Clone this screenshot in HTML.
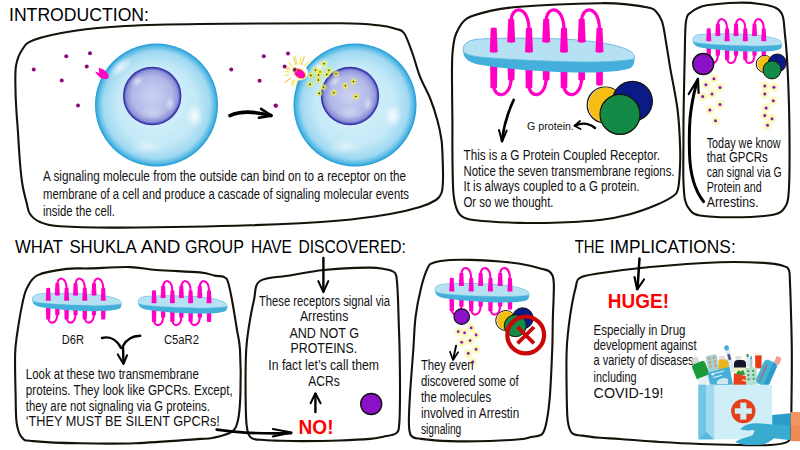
<!DOCTYPE html><html><head><meta charset="utf-8"><style>html,body{margin:0;padding:0;background:#fff;}svg{display:block;}</style></head><body>
<svg width="800" height="450" viewBox="0 0 800 450" font-family="Liberation Sans, sans-serif">
<defs>
<radialGradient id="cellg" cx="0.5" cy="0.5" r="0.5">
 <stop offset="0" stop-color="#dcf2fb"/>
 <stop offset="0.65" stop-color="#c4e9f7"/>
 <stop offset="0.87" stop-color="#a0d9f1"/>
 <stop offset="0.955" stop-color="#55b8e4"/>
 <stop offset="1" stop-color="#1a9ad6"/>
</radialGradient>
<radialGradient id="nucg" cx="0.5" cy="0.5" r="0.5">
 <stop offset="0" stop-color="#cdd2f2"/>
 <stop offset="0.7" stop-color="#b2b8e8"/>
 <stop offset="0.9" stop-color="#9096da"/>
 <stop offset="1" stop-color="#4a48b8"/>
</radialGradient>
<radialGradient id="glow" cx="0.5" cy="0.5" r="0.5">
 <stop offset="0" stop-color="#fafad0"/>
 <stop offset="0.4" stop-color="#f8f7aa"/>
 <stop offset="0.7" stop-color="#fafac4" stop-opacity="0.7"/>
 <stop offset="1" stop-color="#ffffff" stop-opacity="0"/>
</radialGradient>
<radialGradient id="glowc" cx="0.5" cy="0.5" r="0.5">
 <stop offset="0" stop-color="#e6e83a"/>
 <stop offset="0.45" stop-color="#e8ea48" stop-opacity="0.8"/>
 <stop offset="1" stop-color="#eef060" stop-opacity="0"/>
</radialGradient>
<radialGradient id="hl" cx="0.5" cy="0.5" r="0.5">
 <stop offset="0" stop-color="#ffffff" stop-opacity="0.95"/>
 <stop offset="1" stop-color="#ffffff" stop-opacity="0"/>
</radialGradient>
</defs>
<rect width="800" height="450" fill="#fff"/>
<text x="9" y="20.8" font-size="18.5" textLength="140" lengthAdjust="spacingAndGlyphs" font-weight="normal" fill="#000" text-anchor="start" font-family="Liberation Sans" >INTRODUCTION:</text>
<text x="14.9" y="253" font-size="18" textLength="48.0" lengthAdjust="spacingAndGlyphs" font-weight="normal" fill="#000" text-anchor="start" font-family="Liberation Sans" >WHAT</text>
<text x="69.4" y="253" font-size="18" textLength="67.3" lengthAdjust="spacingAndGlyphs" font-weight="normal" fill="#000" text-anchor="start" font-family="Liberation Sans" >SHUKLA</text>
<text x="140.70000000000002" y="253" font-size="18" textLength="39.8" lengthAdjust="spacingAndGlyphs" font-weight="normal" fill="#000" text-anchor="start" font-family="Liberation Sans" >AND</text>
<text x="185.0" y="253" font-size="18" textLength="58.9" lengthAdjust="spacingAndGlyphs" font-weight="normal" fill="#000" text-anchor="start" font-family="Liberation Sans" >GROUP</text>
<text x="251.0" y="253" font-size="18" textLength="40.9" lengthAdjust="spacingAndGlyphs" font-weight="normal" fill="#000" text-anchor="start" font-family="Liberation Sans" >HAVE</text>
<text x="298.4" y="253" font-size="18" textLength="107.5" lengthAdjust="spacingAndGlyphs" font-weight="normal" fill="#000" text-anchor="start" font-family="Liberation Sans" >DISCOVERED:</text>
<text x="574.6999999999999" y="253" font-size="18" textLength="29.7" lengthAdjust="spacingAndGlyphs" font-weight="normal" fill="#000" text-anchor="start" font-family="Liberation Sans" >THE</text>
<text x="609.8" y="253" font-size="18" textLength="125.9" lengthAdjust="spacingAndGlyphs" font-weight="normal" fill="#000" text-anchor="start" font-family="Liberation Sans" >IMPLICATIONS:</text>
<path d="M16.0,66.0 C17.1,59.3 19.0,54.3 22.0,50.0 C25.0,45.7 24.9,43.2 33.8,40.0 C42.6,36.8 59.8,33.1 75.0,30.8 C90.2,28.4 104.2,27.1 125.0,26.0 C145.8,24.9 164.2,24.4 200.0,24.0 C235.8,23.6 310.0,23.1 340.0,23.3 C370.0,23.6 370.7,24.6 380.0,25.5 C389.3,26.4 392.0,27.8 396.0,29.0 C400.0,30.2 401.3,29.2 404.0,33.0 C406.7,36.8 409.3,44.7 412.0,52.0 C414.7,59.3 417.0,69.0 420.0,76.7 C423.0,84.4 427.1,90.8 430.0,98.0 C432.9,105.2 435.4,113.0 437.3,120.0 C439.2,127.0 440.6,133.3 441.5,140.0 C442.4,146.7 442.4,153.3 442.7,160.0 C442.9,166.7 443.2,174.5 443.0,180.0 C442.8,185.5 442.7,189.7 441.5,193.0 C440.3,196.3 439.6,197.7 436.0,200.0 C432.4,202.3 427.7,204.7 420.0,207.0 C412.3,209.3 403.3,211.8 390.0,214.0 C376.7,216.2 363.3,218.6 340.0,220.5 C316.7,222.4 286.7,224.1 250.0,225.3 C213.3,226.5 151.7,227.4 120.0,227.6 C88.3,227.8 73.3,227.2 60.0,226.3 C46.7,225.4 45.0,224.1 40.0,222.0 C35.0,219.9 32.2,217.2 30.0,214.0 C27.8,210.8 27.9,207.8 26.7,203.0 C25.4,198.2 23.6,191.7 22.5,185.0 C21.4,178.3 20.8,172.7 20.0,163.0 C19.2,153.3 18.2,135.5 17.6,127.0 C17.0,118.5 16.9,118.2 16.5,112.0 C16.1,105.8 15.6,97.7 15.5,90.0 C15.4,82.3 14.9,72.7 16.0,66.0 Z" fill="none" stroke="#16120a" stroke-width="2.1" stroke-linejoin="round" stroke-linecap="round"/>
<path d="M452.4,120.0 C452.3,108.3 452.0,91.2 452.0,80.0 C452.0,68.8 451.8,60.7 452.5,53.0 C453.2,45.3 453.6,39.7 456.0,34.0 C458.4,28.3 461.0,22.5 466.7,18.7 C472.4,14.9 481.1,13.0 490.0,11.0 C498.9,9.0 501.7,8.0 520.0,6.7 C538.3,5.4 581.8,3.6 600.0,3.2 C618.2,2.9 621.0,3.9 629.0,4.6 C637.0,5.3 643.6,6.5 648.0,7.5 C652.4,8.5 653.1,8.4 655.4,10.7 C657.7,13.0 660.2,16.2 662.0,21.4 C663.8,26.6 664.7,34.4 666.0,42.0 C667.3,49.6 668.1,55.5 670.0,66.8 C671.9,78.1 675.9,96.1 677.6,110.0 C679.3,123.9 679.9,139.2 680.2,150.0 C680.5,160.8 680.0,168.5 679.6,175.0 C679.2,181.5 678.9,185.6 678.0,189.0 C677.1,192.4 677.5,192.9 674.0,195.5 C670.5,198.1 664.0,201.7 656.7,204.8 C649.4,207.9 639.5,211.7 630.0,214.2 C620.5,216.7 611.7,218.6 600.0,220.0 C588.3,221.4 573.3,222.0 560.0,222.5 C546.7,223.0 534.1,223.3 520.0,222.9 C505.9,222.5 485.4,221.4 475.6,220.2 C465.8,219.0 464.6,218.0 461.3,215.8 C458.0,213.6 457.4,211.3 456.0,207.0 C454.6,202.7 453.8,199.5 453.2,190.0 C452.6,180.5 452.5,161.7 452.4,150.0 C452.3,138.3 452.5,131.7 452.4,120.0 Z" fill="none" stroke="#16120a" stroke-width="2.1" stroke-linejoin="round" stroke-linecap="round"/>
<path d="M683.5,120.0 C683.6,110.0 683.8,101.1 684.0,90.0 C684.2,78.9 684.5,64.8 684.8,53.4 C685.1,42.0 684.9,28.3 686.0,21.4 C687.1,14.5 687.9,14.7 691.4,12.0 C694.9,9.3 698.8,6.8 706.7,5.3 C714.6,3.8 729.8,2.9 738.7,2.7 C747.6,2.5 753.8,3.1 760.0,4.0 C766.2,4.9 772.2,6.0 776.0,8.0 C779.8,10.0 781.2,11.5 782.7,16.0 C784.2,20.5 784.3,28.8 785.0,35.0 C785.7,41.2 786.1,44.1 786.7,53.3 C787.3,62.5 788.1,78.9 788.5,90.0 C788.9,101.1 789.1,107.2 789.3,120.0 C789.5,132.8 789.6,154.2 789.5,166.7 C789.4,179.2 789.2,188.3 788.5,195.0 C787.8,201.7 787.8,203.4 785.3,206.7 C782.8,210.0 782.0,212.9 773.3,214.7 C764.6,216.5 745.5,217.2 733.3,217.3 C721.1,217.4 707.2,216.7 700.0,215.5 C692.8,214.3 692.5,212.6 690.0,210.0 C687.5,207.4 686.1,205.0 685.0,200.0 C683.9,195.0 683.7,188.3 683.4,180.0 C683.1,171.7 683.4,160.0 683.4,150.0 C683.4,140.0 683.4,130.0 683.5,120.0 Z" fill="none" stroke="#16120a" stroke-width="2.1" stroke-linejoin="round" stroke-linecap="round"/>
<path d="M22.2,304.4 C23.9,296.6 24.4,292.9 27.0,288.0 C29.6,283.1 31.2,278.3 37.8,275.1 C44.4,271.9 58.0,270.0 66.7,268.9 C75.4,267.8 79.5,268.7 90.0,268.4 C100.5,268.1 118.9,266.8 130.0,267.1 C141.1,267.4 145.0,269.1 156.7,270.0 C168.4,270.9 190.4,271.5 200.0,272.4 C209.6,273.3 210.4,274.8 214.4,275.6 C218.4,276.4 221.7,275.9 224.0,277.0 C226.3,278.1 226.7,278.2 228.0,282.0 C229.3,285.8 230.5,292.0 232.0,300.0 C233.5,308.0 235.7,321.7 237.0,330.0 C238.3,338.3 239.4,339.3 240.0,350.0 C240.6,360.7 240.8,382.6 240.4,394.4 C240.0,406.2 239.4,414.7 237.8,421.0 C236.2,427.3 235.2,429.4 231.1,432.2 C227.0,435.0 218.5,436.7 213.3,437.8 C208.1,438.9 213.1,438.0 200.0,438.9 C186.9,439.8 155.0,442.5 135.0,443.2 C115.0,443.9 97.0,443.6 80.0,443.3 C63.0,443.0 42.9,442.0 33.3,441.1 C23.7,440.2 25.0,440.8 22.2,437.8 C19.4,434.8 17.8,430.5 16.7,423.3 C15.6,416.1 15.9,405.8 15.6,394.4 C15.3,383.0 14.9,364.9 15.1,355.0 C15.3,345.1 15.8,343.4 17.0,335.0 C18.2,326.6 20.5,312.2 22.2,304.4 Z" fill="none" stroke="#16120a" stroke-width="2.1" stroke-linejoin="round" stroke-linecap="round"/>
<path d="M260.0,281.0 C266.0,276.9 279.4,277.3 290.0,275.5 C300.6,273.7 310.8,271.3 323.9,270.0 C336.9,268.7 358.3,267.8 368.3,267.6 C378.3,267.4 380.0,268.4 384.0,269.0 C388.0,269.6 390.2,270.0 392.2,271.1 C394.2,272.2 395.3,271.7 396.2,275.6 C397.1,279.5 397.4,285.7 397.8,294.4 C398.2,303.1 398.6,318.5 398.9,327.8 C399.2,337.1 399.4,338.9 399.6,350.0 C399.8,361.1 400.1,382.2 400.0,394.4 C399.9,406.6 399.9,416.8 399.3,423.3 C398.7,429.8 398.9,431.1 396.2,433.3 C393.5,435.5 387.7,435.8 383.3,436.7 C378.9,437.6 377.2,438.3 370.0,438.9 C362.8,439.5 351.4,440.1 340.0,440.5 C328.6,440.9 311.7,441.1 301.7,441.1 C291.7,441.1 286.2,440.9 280.0,440.7 C273.8,440.5 269.2,440.5 264.4,440.0 C259.6,439.5 254.0,440.2 251.1,437.8 C248.2,435.4 247.6,432.8 246.7,425.6 C245.8,418.4 245.7,407.0 245.6,394.4 C245.5,381.8 245.6,361.4 246.2,350.0 C246.8,338.6 247.7,334.3 249.0,326.0 C250.3,317.7 252.2,307.5 254.0,300.0 C255.8,292.5 254.0,285.1 260.0,281.0 Z" fill="none" stroke="#16120a" stroke-width="2.1" stroke-linejoin="round" stroke-linecap="round"/>
<path d="M434.0,262.6 C437.7,261.3 443.7,260.4 450.0,260.0 C456.3,259.6 463.4,259.6 471.7,259.9 C480.0,260.1 491.9,260.9 500.0,261.5 C508.1,262.1 513.0,262.6 520.0,263.8 C527.0,265.0 537.1,267.4 542.2,268.9 C547.3,270.3 548.6,270.1 550.5,272.5 C552.4,274.9 553.4,275.9 553.8,283.3 C554.2,290.7 553.2,305.6 552.9,316.7 C552.6,327.8 552.7,337.1 552.2,350.0 C551.7,362.9 550.9,382.5 550.0,394.4 C549.1,406.2 548.0,414.5 546.7,421.1 C545.4,427.7 544.8,431.3 542.2,434.0 C539.6,436.7 534.8,436.2 531.1,437.1 C527.4,438.0 526.9,438.7 520.0,439.3 C513.1,439.9 501.7,440.7 490.0,441.0 C478.3,441.3 461.5,441.5 450.0,441.1 C438.5,440.8 427.6,439.8 421.1,438.9 C414.6,438.0 413.1,438.2 411.1,435.6 C409.1,433.0 409.1,430.2 408.9,423.3 C408.7,416.4 409.3,406.6 410.0,394.4 C410.7,382.2 412.4,362.9 413.3,350.0 C414.2,337.1 414.3,327.1 415.6,316.7 C416.9,306.3 419.1,295.9 421.1,287.8 C423.1,279.7 425.7,272.0 427.8,267.8 C429.9,263.6 430.3,263.9 434.0,262.6 Z" fill="none" stroke="#16120a" stroke-width="2.1" stroke-linejoin="round" stroke-linecap="round"/>
<path d="M580.0,277.8 C584.1,275.4 588.3,275.1 600.0,273.3 C611.7,271.5 630.0,268.9 650.0,267.0 C670.0,265.1 700.9,262.9 720.0,262.2 C739.1,261.5 754.0,262.3 764.4,262.9 C774.8,263.5 778.1,264.4 782.2,265.6 C786.3,266.8 787.6,267.1 788.9,270.0 C790.2,272.9 789.6,275.5 790.0,283.3 C790.4,291.1 790.8,305.6 791.1,316.7 C791.4,327.8 791.7,336.1 791.8,350.0 C791.9,363.9 791.7,386.7 791.5,400.0 C791.3,413.3 791.4,423.1 790.8,430.0 C790.2,436.9 791.5,439.0 788.0,441.5 C784.5,444.0 778.0,444.4 770.0,445.0 C762.0,445.6 751.7,445.2 740.0,445.0 C728.3,444.8 713.3,444.5 700.0,444.0 C686.7,443.5 673.3,442.8 660.0,442.0 C646.7,441.2 630.0,439.7 620.0,439.0 C610.0,438.3 606.3,438.4 600.0,437.8 C593.7,437.2 586.8,436.4 582.2,435.6 C577.6,434.9 574.6,435.7 572.2,433.3 C569.8,430.9 568.7,427.6 567.8,421.1 C566.9,414.6 566.9,406.2 566.7,394.4 C566.5,382.5 566.2,362.9 566.7,350.0 C567.2,337.1 568.5,327.1 570.0,316.7 C571.5,306.3 573.9,294.3 575.6,287.8 C577.3,281.3 575.9,280.2 580.0,277.8 Z" fill="none" stroke="#16120a" stroke-width="2.1" stroke-linejoin="round" stroke-linecap="round"/>
<line x1="305.5" y1="72.7" x2="314.3" y2="73.0" stroke="#f6c25a" stroke-width="1.1" stroke-linecap="round"/>
<line x1="305.1" y1="74.9" x2="314.2" y2="78.3" stroke="#f8e54a" stroke-width="1.1" stroke-linecap="round"/>
<line x1="304.2" y1="76.6" x2="312.0" y2="82.3" stroke="#f8e54a" stroke-width="1.1" stroke-linecap="round"/>
<line x1="303.7" y1="77.2" x2="309.2" y2="82.4" stroke="#f6c25a" stroke-width="1.1" stroke-linecap="round"/>
<line x1="300.7" y1="79.1" x2="303.4" y2="87.1" stroke="#f8e54a" stroke-width="1.1" stroke-linecap="round"/>
<line x1="298.8" y1="79.5" x2="299.1" y2="85.5" stroke="#f8e54a" stroke-width="1.1" stroke-linecap="round"/>
<line x1="297.6" y1="79.4" x2="296.7" y2="86.0" stroke="#f6c25a" stroke-width="1.1" stroke-linecap="round"/>
<line x1="295.5" y1="78.8" x2="292.1" y2="86.2" stroke="#f8e54a" stroke-width="1.1" stroke-linecap="round"/>
<line x1="294.6" y1="78.3" x2="290.9" y2="83.6" stroke="#f8e54a" stroke-width="1.1" stroke-linecap="round"/>
<line x1="292.8" y1="76.6" x2="285.0" y2="82.2" stroke="#f6c25a" stroke-width="1.1" stroke-linecap="round"/>
<line x1="291.7" y1="74.0" x2="285.6" y2="75.4" stroke="#f8e54a" stroke-width="1.1" stroke-linecap="round"/>
<line x1="291.5" y1="72.0" x2="285.4" y2="71.6" stroke="#f8e54a" stroke-width="1.1" stroke-linecap="round"/>
<line x1="291.8" y1="70.3" x2="286.1" y2="68.5" stroke="#f6c25a" stroke-width="1.1" stroke-linecap="round"/>
<line x1="292.2" y1="69.4" x2="283.7" y2="65.3" stroke="#f8e54a" stroke-width="1.1" stroke-linecap="round"/>
<line x1="293.6" y1="67.5" x2="289.0" y2="63.0" stroke="#f8e54a" stroke-width="1.1" stroke-linecap="round"/>
<line x1="296.3" y1="65.8" x2="293.4" y2="56.9" stroke="#f6c25a" stroke-width="1.1" stroke-linecap="round"/>
<line x1="297.2" y1="65.6" x2="295.3" y2="56.0" stroke="#f8e54a" stroke-width="1.1" stroke-linecap="round"/>
<line x1="299.6" y1="65.6" x2="300.9" y2="57.1" stroke="#f8e54a" stroke-width="1.1" stroke-linecap="round"/>
<line x1="300.9" y1="65.9" x2="304.4" y2="56.8" stroke="#f6c25a" stroke-width="1.1" stroke-linecap="round"/>
<line x1="303.3" y1="67.4" x2="310.1" y2="60.3" stroke="#f8e54a" stroke-width="1.1" stroke-linecap="round"/>
<line x1="304.7" y1="69.3" x2="310.8" y2="66.1" stroke="#f8e54a" stroke-width="1.1" stroke-linecap="round"/>
<line x1="305.1" y1="70.3" x2="311.1" y2="68.3" stroke="#f6c25a" stroke-width="1.1" stroke-linecap="round"/>
<circle cx="156.5" cy="105" r="61.5" fill="url(#cellg)"/>
<ellipse cx="120.5" cy="67" rx="14" ry="7" fill="url(#hl)" opacity="0.8" transform="rotate(-40 120.5 67)"/>
<ellipse cx="194.5" cy="116" rx="9" ry="12" fill="url(#hl)" opacity="0.9"/>
<ellipse cx="146.5" cy="147" rx="18" ry="8" fill="url(#hl)" opacity="0.5"/>
<circle cx="152.2" cy="96" r="28.5" fill="url(#nucg)" stroke="#3a34a8" stroke-width="1.4"/>
<ellipse cx="137.2" cy="81" rx="8" ry="5" fill="url(#hl)" opacity="0.6" transform="rotate(-40 137.2 81)"/>
<ellipse cx="170.2" cy="104" rx="5" ry="8" fill="url(#hl)" opacity="0.5"/>
<ellipse cx="152.2" cy="113" rx="14" ry="7" fill="url(#hl)" opacity="0.35"/>
<circle cx="355" cy="105" r="61.5" fill="url(#cellg)"/>
<ellipse cx="319" cy="67" rx="14" ry="7" fill="url(#hl)" opacity="0.8" transform="rotate(-40 319 67)"/>
<ellipse cx="393" cy="116" rx="9" ry="12" fill="url(#hl)" opacity="0.9"/>
<ellipse cx="345" cy="147" rx="18" ry="8" fill="url(#hl)" opacity="0.5"/>
<circle cx="350" cy="96" r="28.5" fill="url(#nucg)" stroke="#3a34a8" stroke-width="1.4"/>
<ellipse cx="335" cy="81" rx="8" ry="5" fill="url(#hl)" opacity="0.6" transform="rotate(-40 335 81)"/>
<ellipse cx="368" cy="104" rx="5" ry="8" fill="url(#hl)" opacity="0.5"/>
<ellipse cx="350" cy="113" rx="14" ry="7" fill="url(#hl)" opacity="0.35"/>
<path d="M95.2,71.5 L99.3,73 L98.6,68 C102.5,68.5 107.5,71.5 108.6,75.5 C109,78.5 107,79.5 104.5,79 C100.5,78.5 97,75.5 95.2,71.5 Z" fill="#ff04c4"/>
<ellipse cx="298.5" cy="72.5" rx="9.5" ry="8" fill="#ffffff" opacity="0.95"/>
<ellipse cx="299.8" cy="73.7" rx="6.4" ry="4.4" fill="#ff00b8" stroke="#f0d820" stroke-width="0.9" transform="rotate(35 299.8 73.7)"/>
<circle cx="294.8" cy="69.8" r="2.2" fill="#800a70" stroke="#f0d820" stroke-width="0.7"/>
<circle cx="66.25" cy="56.25" r="2" fill="#8a0a78"/>
<circle cx="90" cy="53.25" r="2" fill="#8a0a78"/>
<circle cx="33.75" cy="69.5" r="2" fill="#8a0a78"/>
<circle cx="86.75" cy="66.5" r="2" fill="#8a0a78"/>
<circle cx="61.75" cy="80.5" r="2" fill="#8a0a78"/>
<circle cx="78" cy="105.5" r="2" fill="#8a0a78"/>
<circle cx="231.2" cy="69.5" r="2" fill="#8a0a78"/>
<circle cx="263.8" cy="56.25" r="2" fill="#8a0a78"/>
<circle cx="288" cy="53.4" r="2" fill="#8a0a78"/>
<circle cx="284.6" cy="66.6" r="2" fill="#8a0a78"/>
<circle cx="259.6" cy="80.7" r="2" fill="#8a0a78"/>
<circle cx="275.6" cy="105.5" r="2" fill="#8a0a78"/>
<circle cx="324" cy="63.8" r="4.2" fill="url(#glowc)"/>
<circle cx="324" cy="63.8" r="0.8" fill="#222"/>
<circle cx="315.5" cy="70" r="4.2" fill="url(#glowc)"/>
<circle cx="315.5" cy="70" r="0.8" fill="#222"/>
<circle cx="320" cy="72" r="4.2" fill="url(#glowc)"/>
<circle cx="320" cy="72" r="0.8" fill="#222"/>
<circle cx="329" cy="70.3" r="4.2" fill="url(#glowc)"/>
<circle cx="329" cy="70.3" r="0.8" fill="#222"/>
<circle cx="310.8" cy="75.4" r="4.2" fill="url(#glowc)"/>
<circle cx="310.8" cy="75.4" r="0.8" fill="#222"/>
<circle cx="318.6" cy="75" r="4.2" fill="url(#glowc)"/>
<circle cx="318.6" cy="75" r="0.8" fill="#222"/>
<circle cx="326.8" cy="74.5" r="4.2" fill="url(#glowc)"/>
<circle cx="326.8" cy="74.5" r="0.8" fill="#222"/>
<circle cx="336" cy="73.7" r="4.2" fill="url(#glowc)"/>
<circle cx="336" cy="73.7" r="0.8" fill="#222"/>
<circle cx="318.4" cy="80.1" r="4.2" fill="url(#glowc)"/>
<circle cx="318.4" cy="80.1" r="0.8" fill="#222"/>
<circle cx="310" cy="84.4" r="4.2" fill="url(#glowc)"/>
<circle cx="310" cy="84.4" r="0.8" fill="#222"/>
<circle cx="323.4" cy="87.2" r="4.2" fill="url(#glowc)"/>
<circle cx="323.4" cy="87.2" r="0.8" fill="#222"/>
<circle cx="319.2" cy="93.4" r="4.2" fill="url(#glowc)"/>
<circle cx="319.2" cy="93.4" r="0.8" fill="#222"/>
<circle cx="333.8" cy="92.8" r="4.2" fill="url(#glowc)"/>
<circle cx="333.8" cy="92.8" r="0.8" fill="#222"/>
<circle cx="345.4" cy="85.8" r="4.2" fill="url(#glowc)"/>
<circle cx="345.4" cy="85.8" r="0.8" fill="#222"/>
<circle cx="353.5" cy="81.6" r="4.2" fill="url(#glowc)"/>
<circle cx="353.5" cy="81.6" r="0.8" fill="#222"/>
<circle cx="355.8" cy="96.5" r="4.2" fill="url(#glowc)"/>
<circle cx="355.8" cy="96.5" r="0.8" fill="#222"/>
<path d="M230,115.6 C238,112 252,110.5 271,115.6" fill="none" stroke="#000" stroke-width="3.6" stroke-linecap="round"/>
<path d="M261.1,108.9 L271.3,115.6 L258.9,117.8" fill="none" stroke="#000" stroke-width="2.6" stroke-linecap="round" stroke-linejoin="round"/>
<circle cx="275.9" cy="105.8" r="2" fill="#8a0a78"/>
<text x="43" y="181" font-size="14" textLength="363" lengthAdjust="spacingAndGlyphs" font-weight="normal" fill="#111" text-anchor="start" font-family="Liberation Sans" >A signaling molecule from the outside can bind on to a receptor on the</text>
<text x="43" y="198.5" font-size="14" textLength="366" lengthAdjust="spacingAndGlyphs" font-weight="normal" fill="#111" text-anchor="start" font-family="Liberation Sans" >membrane of a cell and produce a cascade of signaling molecular events</text>
<text x="43" y="216.2" font-size="14" textLength="72" lengthAdjust="spacingAndGlyphs" font-weight="normal" fill="#111" text-anchor="start" font-family="Liberation Sans" >inside the cell.</text>
<g transform="translate(549,55) scale(1.0)">
<path d="M-58.9,10 L-51.699999999999996,10 L-52.059999999999995,33 Q-55.3,34.5 -58.54,33 Z" fill="#ff00c4"/>
<path d="M-41.4,10 L-34.199999999999996,10 L-34.559999999999995,25 Q-37.8,26.5 -41.04,25 Z" fill="#ff00c4"/>
<path d="M-23.6,10 L-16.4,10 L-16.759999999999998,33 Q-20,34.5 -23.240000000000002,33 Z" fill="#ff00c4"/>
<path d="M-6.4,10 L0.8000000000000003,10 L0.4400000000000004,25 Q-2.8,26.5 -6.04,25 Z" fill="#ff00c4"/>
<path d="M11.4,10 L18.6,10 L18.240000000000002,33 Q15,34.5 11.76,33 Z" fill="#ff00c4"/>
<path d="M29.1,10 L36.300000000000004,10 L35.940000000000005,25 Q32.7,26.5 29.46,25 Z" fill="#ff00c4"/>
<path d="M46.9,10 L54.1,10 L53.74,30 Q50.5,31.5 47.26,30 Z" fill="#ff00c4"/>
<path d="M-55.3,30 C-55.3,44 -37.8,44 -37.8,22" fill="none" stroke="#ff00c4" stroke-width="3.2"/>
<path d="M-20,30 C-20,44 -2.8,44 -2.8,22" fill="none" stroke="#ff00c4" stroke-width="3.2"/>
<path d="M15,30 C15,44 32.7,44 32.7,22" fill="none" stroke="#ff00c4" stroke-width="3.2"/>
<g transform="rotate(0)">
<path d="M-86,-5 C-86,-12 -79,-15.5 -69,-16 C-49,-17 -9,-17.5 21,-15.5 C46,-14 71,-10 81,-4 C86,-1 87,7 83,12 C77,16.5 51,18 26,17.5 C-9,16.5 -49,13.5 -71,9.5 C-81,7 -86,3 -86,-5 Z" fill="#45afdb"/>
<path d="M-86,-5 C-86,-12 -79,-15.5 -69,-16 C-49,-17 -9,-17.5 21,-15.5 C46,-14 71,-10 81,-4 C86,-1 86,3 85.5,4 C71,6.5 51,7 36,7 C11,6.5 -29,5.5 -64,2.5 C-79,1 -86,-1 -86,-5 Z" fill="#b6e1f2" stroke="#5db9de" stroke-width="0.8"/>
</g>
<path d="M-58.288,-27 Q-55.3,-28 -52.312,-27 L-51.339999999999996,-3 Q-55.3,-1.5 -59.26,-3 Z" fill="#ff00c4"/>
<path d="M-40.788,-36 Q-37.8,-37 -34.812,-36 L-33.839999999999996,-13 Q-37.8,-11.5 -41.76,-13 Z" fill="#ff00c4"/>
<path d="M-22.988,-27 Q-20,-28 -17.012,-27 L-16.04,-3 Q-20,-1.5 -23.96,-3 Z" fill="#ff00c4"/>
<path d="M-5.788,-36 Q-2.8,-37 0.18800000000000017,-36 L1.1600000000000006,-13 Q-2.8,-11.5 -6.76,-13 Z" fill="#ff00c4"/>
<path d="M12.012,-27 Q15,-28 17.988,-27 L18.96,-3 Q15,-1.5 11.04,-3 Z" fill="#ff00c4"/>
<path d="M29.712000000000003,-36 Q32.7,-37 35.688,-36 L36.660000000000004,-13 Q32.7,-11.5 28.740000000000002,-13 Z" fill="#ff00c4"/>
<path d="M47.512,-27 Q50.5,-28 53.488,-27 L54.46,-3 Q50.5,-1.5 46.54,-3 Z" fill="#ff00c4"/>
<path d="M-37.8,-34 C-37.8,-50 -20,-50 -20,-25" fill="none" stroke="#ff00c4" stroke-width="3.2"/>
<path d="M-2.8,-34 C-2.8,-50 15,-50 15,-25" fill="none" stroke="#ff00c4" stroke-width="3.2"/>
<path d="M32.7,-34 C32.7,-50 50.5,-50 50.5,-25" fill="none" stroke="#ff00c4" stroke-width="3.2"/>
</g>
<circle cx="605.2" cy="105" r="18" fill="#f1e4f2" stroke="#16120a" stroke-width="1.2"/>
<circle cx="606" cy="105" r="17.4" fill="#f6bd12"/>
<circle cx="632.4" cy="101.3" r="20" fill="#0c1a88" stroke="#16120a" stroke-width="1.2"/>
<circle cx="620" cy="114.4" r="20" fill="#138a45" stroke="#16120a" stroke-width="1.2"/>
<path d="M513.7,99.9 C509,110 504,122 502,141" fill="none" stroke="#000" stroke-width="2.6" stroke-linecap="round"/>
<path d="M499,130 L502,141.5 L506.7,130.6" fill="none" stroke="#000" stroke-width="2" stroke-linecap="round" stroke-linejoin="round"/>
<path d="M595,128 C590,124 583,122 575,125.6" fill="none" stroke="#000" stroke-width="2.4" stroke-linecap="round"/>
<path d="M580,121 L574.5,125.8 L580.5,129" fill="none" stroke="#000" stroke-width="1.8" stroke-linecap="round" stroke-linejoin="round"/>
<text x="527" y="130" font-size="11.5" textLength="47" lengthAdjust="spacingAndGlyphs" font-weight="normal" fill="#111" text-anchor="start" font-family="Liberation Sans" >G protein.</text>
<text x="463.5" y="160" font-size="13.8" textLength="196.5" lengthAdjust="spacingAndGlyphs" font-weight="normal" fill="#111" text-anchor="start" font-family="Liberation Sans" >This is a G Protein Coupled Receptor.</text>
<text x="463.5" y="175.6" font-size="13.8" textLength="211" lengthAdjust="spacingAndGlyphs" font-weight="normal" fill="#111" text-anchor="start" font-family="Liberation Sans" >Notice the seven transmembrane regions.</text>
<text x="463.5" y="191" font-size="13.8" textLength="176" lengthAdjust="spacingAndGlyphs" font-weight="normal" fill="#111" text-anchor="start" font-family="Liberation Sans" >It is always coupled to a G protein.</text>
<text x="463.5" y="206.5" font-size="13.8" textLength="90" lengthAdjust="spacingAndGlyphs" font-weight="normal" fill="#111" text-anchor="start" font-family="Liberation Sans" >Or so we thought.</text>
<g transform="translate(737.5,42.5) scale(0.52)">
<path d="M-59.699999999999996,10 L-50.9,10 L-51.339999999999996,33 Q-55.3,34.5 -59.26,33 Z" fill="#ff00c4"/>
<path d="M-42.199999999999996,10 L-33.4,10 L-33.839999999999996,25 Q-37.8,26.5 -41.76,25 Z" fill="#ff00c4"/>
<path d="M-24.4,10 L-15.6,10 L-16.04,33 Q-20,34.5 -23.96,33 Z" fill="#ff00c4"/>
<path d="M-7.2,10 L1.6000000000000005,10 L1.1600000000000006,25 Q-2.8,26.5 -6.76,25 Z" fill="#ff00c4"/>
<path d="M10.6,10 L19.4,10 L18.96,33 Q15,34.5 11.04,33 Z" fill="#ff00c4"/>
<path d="M28.300000000000004,10 L37.1,10 L36.660000000000004,25 Q32.7,26.5 28.740000000000002,25 Z" fill="#ff00c4"/>
<path d="M46.1,10 L54.9,10 L54.46,30 Q50.5,31.5 46.54,30 Z" fill="#ff00c4"/>
<path d="M-55.3,30 C-55.3,44 -37.8,44 -37.8,22" fill="none" stroke="#ff00c4" stroke-width="4.0"/>
<path d="M-20,30 C-20,44 -2.8,44 -2.8,22" fill="none" stroke="#ff00c4" stroke-width="4.0"/>
<path d="M15,30 C15,44 32.7,44 32.7,22" fill="none" stroke="#ff00c4" stroke-width="4.0"/>
<g transform="rotate(0)">
<path d="M-86,-5 C-86,-12 -79,-15.5 -69,-16 C-49,-17 -9,-17.5 21,-15.5 C46,-14 71,-10 81,-4 C86,-1 87,7 83,12 C77,16.5 51,18 26,17.5 C-9,16.5 -49,13.5 -71,9.5 C-81,7 -86,3 -86,-5 Z" fill="#45afdb"/>
<path d="M-86,-5 C-86,-12 -79,-15.5 -69,-16 C-49,-17 -9,-17.5 21,-15.5 C46,-14 71,-10 81,-4 C86,-1 86,3 85.5,4 C71,6.5 51,7 36,7 C11,6.5 -29,5.5 -64,2.5 C-79,1 -86,-1 -86,-5 Z" fill="#b6e1f2" stroke="#5db9de" stroke-width="0.8"/>
</g>
<path d="M-58.952,-27 Q-55.3,-28 -51.647999999999996,-27 L-50.459999999999994,-3 Q-55.3,-1.5 -60.14,-3 Z" fill="#ff00c4"/>
<path d="M-41.452,-36 Q-37.8,-37 -34.147999999999996,-36 L-32.959999999999994,-13 Q-37.8,-11.5 -42.64,-13 Z" fill="#ff00c4"/>
<path d="M-23.652,-27 Q-20,-28 -16.348,-27 L-15.16,-3 Q-20,-1.5 -24.84,-3 Z" fill="#ff00c4"/>
<path d="M-6.452,-36 Q-2.8,-37 0.8520000000000003,-36 L2.040000000000001,-13 Q-2.8,-11.5 -7.640000000000001,-13 Z" fill="#ff00c4"/>
<path d="M11.347999999999999,-27 Q15,-28 18.652,-27 L19.84,-3 Q15,-1.5 10.16,-3 Z" fill="#ff00c4"/>
<path d="M29.048000000000002,-36 Q32.7,-37 36.352000000000004,-36 L37.540000000000006,-13 Q32.7,-11.5 27.860000000000003,-13 Z" fill="#ff00c4"/>
<path d="M46.848,-27 Q50.5,-28 54.152,-27 L55.34,-3 Q50.5,-1.5 45.66,-3 Z" fill="#ff00c4"/>
<path d="M-37.8,-34 C-37.8,-50 -20,-50 -20,-25" fill="none" stroke="#ff00c4" stroke-width="4.0"/>
<path d="M-2.8,-34 C-2.8,-50 15,-50 15,-25" fill="none" stroke="#ff00c4" stroke-width="4.0"/>
<path d="M32.7,-34 C32.7,-50 50.5,-50 50.5,-25" fill="none" stroke="#ff00c4" stroke-width="4.0"/>
</g>
<circle cx="703.2" cy="64" r="10.5" fill="#8c10c8" stroke="#111" stroke-width="1.4"/>
<circle cx="764.7" cy="64" r="8.5" fill="#f1e4f2" stroke="#16120a" stroke-width="1"/>
<circle cx="765.5" cy="64" r="7.9" fill="#f6bd12"/>
<circle cx="777.3" cy="63" r="9" fill="#0c1a88" stroke="#16120a" stroke-width="1"/>
<circle cx="772" cy="69.9" r="9" fill="#138a45" stroke="#16120a" stroke-width="1"/>
<circle cx="713.9" cy="78.7" r="6" fill="url(#glow)"/>
<circle cx="713.9" cy="78.7" r="1.5" fill="#8c12c8"/>
<circle cx="705.9" cy="84.8" r="6" fill="url(#glow)"/>
<circle cx="705.9" cy="84.8" r="1.5" fill="#8c12c8"/>
<circle cx="720" cy="87.5" r="6" fill="url(#glow)"/>
<circle cx="720" cy="87.5" r="1.5" fill="#8c12c8"/>
<circle cx="712" cy="93.9" r="6" fill="url(#glow)"/>
<circle cx="712" cy="93.9" r="1.5" fill="#8c12c8"/>
<circle cx="702.7" cy="96.5" r="6" fill="url(#glow)"/>
<circle cx="702.7" cy="96.5" r="1.5" fill="#8c12c8"/>
<circle cx="720" cy="104.5" r="6" fill="url(#glow)"/>
<circle cx="720" cy="104.5" r="1.5" fill="#8c12c8"/>
<circle cx="709.9" cy="110" r="6" fill="url(#glow)"/>
<circle cx="709.9" cy="110" r="1.5" fill="#8c12c8"/>
<circle cx="715.5" cy="120.8" r="6" fill="url(#glow)"/>
<circle cx="715.5" cy="120.8" r="1.5" fill="#8c12c8"/>
<circle cx="764.8" cy="85.9" r="6" fill="url(#glow)"/>
<circle cx="764.8" cy="85.9" r="1.5" fill="#8c12c8"/>
<circle cx="773.9" cy="87.2" r="6" fill="url(#glow)"/>
<circle cx="773.9" cy="87.2" r="1.5" fill="#8c12c8"/>
<circle cx="764.8" cy="93.9" r="6" fill="url(#glow)"/>
<circle cx="764.8" cy="93.9" r="1.5" fill="#8c12c8"/>
<circle cx="773.3" cy="100.8" r="6" fill="url(#glow)"/>
<circle cx="773.3" cy="100.8" r="1.5" fill="#8c12c8"/>
<circle cx="766.1" cy="108" r="6" fill="url(#glow)"/>
<circle cx="766.1" cy="108" r="1.5" fill="#8c12c8"/>
<circle cx="764.8" cy="115.5" r="6" fill="url(#glow)"/>
<circle cx="764.8" cy="115.5" r="1.5" fill="#8c12c8"/>
<circle cx="772" cy="118.7" r="6" fill="url(#glow)"/>
<circle cx="772" cy="118.7" r="1.5" fill="#8c12c8"/>
<circle cx="767.5" cy="125.3" r="6" fill="url(#glow)"/>
<circle cx="767.5" cy="125.3" r="1.5" fill="#8c12c8"/>
<path d="M703.6,201.6 C696,192 690,175 689.5,153 C689,135 689.5,120 691,110 C692.5,100 695,88 697.6,80" fill="none" stroke="#000" stroke-width="3" stroke-linecap="round"/>
<path d="M688.7,94 L698,78.7 L698.6,93" fill="none" stroke="#000" stroke-width="2.2" stroke-linecap="round" stroke-linejoin="round"/>
<text x="706.7" y="147.5" font-size="13.8" textLength="74" lengthAdjust="spacingAndGlyphs" font-weight="normal" fill="#111" text-anchor="start" font-family="Liberation Sans" >Today we know</text>
<text x="706.7" y="162" font-size="13.8" textLength="61" lengthAdjust="spacingAndGlyphs" font-weight="normal" fill="#111" text-anchor="start" font-family="Liberation Sans" >that GPCRs</text>
<text x="706.7" y="176.8" font-size="13.8" textLength="75" lengthAdjust="spacingAndGlyphs" font-weight="normal" fill="#111" text-anchor="start" font-family="Liberation Sans" >can signal via G</text>
<text x="706.7" y="192" font-size="13.8" textLength="55" lengthAdjust="spacingAndGlyphs" font-weight="normal" fill="#111" text-anchor="start" font-family="Liberation Sans" >Protein and</text>
<text x="706.7" y="206.7" font-size="13.8" textLength="52" lengthAdjust="spacingAndGlyphs" font-weight="normal" fill="#111" text-anchor="start" font-family="Liberation Sans" >Arrestins.</text>
<g transform="translate(77,302) scale(0.52)">
<path d="M-59.699999999999996,10 L-50.9,10 L-51.339999999999996,33 Q-55.3,34.5 -59.26,33 Z" fill="#ff00c4"/>
<path d="M-42.199999999999996,10 L-33.4,10 L-33.839999999999996,25 Q-37.8,26.5 -41.76,25 Z" fill="#ff00c4"/>
<path d="M-24.4,10 L-15.6,10 L-16.04,33 Q-20,34.5 -23.96,33 Z" fill="#ff00c4"/>
<path d="M-7.2,10 L1.6000000000000005,10 L1.1600000000000006,25 Q-2.8,26.5 -6.76,25 Z" fill="#ff00c4"/>
<path d="M10.6,10 L19.4,10 L18.96,33 Q15,34.5 11.04,33 Z" fill="#ff00c4"/>
<path d="M28.300000000000004,10 L37.1,10 L36.660000000000004,25 Q32.7,26.5 28.740000000000002,25 Z" fill="#ff00c4"/>
<path d="M46.1,10 L54.9,10 L54.46,33 Q50.5,34.5 46.54,33 Z" fill="#ff00c4"/>
<path d="M-55.3,30 C-55.3,44 -37.8,44 -37.8,22" fill="none" stroke="#ff00c4" stroke-width="4.0"/>
<path d="M-20,30 C-20,44 -2.8,44 -2.8,22" fill="none" stroke="#ff00c4" stroke-width="4.0"/>
<path d="M15,30 C15,44 32.7,44 32.7,22" fill="none" stroke="#ff00c4" stroke-width="4.0"/>
<g transform="rotate(0)">
<path d="M-86,-5 C-86,-12 -79,-15.5 -69,-16 C-49,-17 -9,-17.5 21,-15.5 C46,-14 71,-10 81,-4 C86,-1 87,7 83,12 C77,16.5 51,18 26,17.5 C-9,16.5 -49,13.5 -71,9.5 C-81,7 -86,3 -86,-5 Z" fill="#45afdb"/>
<path d="M-86,-5 C-86,-12 -79,-15.5 -69,-16 C-49,-17 -9,-17.5 21,-15.5 C46,-14 71,-10 81,-4 C86,-1 86,3 85.5,4 C71,6.5 51,7 36,7 C11,6.5 -29,5.5 -64,2.5 C-79,1 -86,-1 -86,-5 Z" fill="#b6e1f2" stroke="#5db9de" stroke-width="0.8"/>
</g>
<path d="M-58.952,-27 Q-55.3,-28 -51.647999999999996,-27 L-50.459999999999994,-3 Q-55.3,-1.5 -60.14,-3 Z" fill="#ff00c4"/>
<path d="M-41.452,-36 Q-37.8,-37 -34.147999999999996,-36 L-32.959999999999994,-13 Q-37.8,-11.5 -42.64,-13 Z" fill="#ff00c4"/>
<path d="M-23.652,-27 Q-20,-28 -16.348,-27 L-15.16,-3 Q-20,-1.5 -24.84,-3 Z" fill="#ff00c4"/>
<path d="M-6.452,-36 Q-2.8,-37 0.8520000000000003,-36 L2.040000000000001,-13 Q-2.8,-11.5 -7.640000000000001,-13 Z" fill="#ff00c4"/>
<path d="M11.347999999999999,-27 Q15,-28 18.652,-27 L19.84,-3 Q15,-1.5 10.16,-3 Z" fill="#ff00c4"/>
<path d="M29.048000000000002,-36 Q32.7,-37 36.352000000000004,-36 L37.540000000000006,-13 Q32.7,-11.5 27.860000000000003,-13 Z" fill="#ff00c4"/>
<path d="M46.848,-27 Q50.5,-28 54.152,-27 L55.34,-3 Q50.5,-1.5 45.66,-3 Z" fill="#ff00c4"/>
<path d="M-37.8,-34 C-37.8,-50 -20,-50 -20,-25" fill="none" stroke="#ff00c4" stroke-width="4.0"/>
<path d="M-2.8,-34 C-2.8,-50 15,-50 15,-25" fill="none" stroke="#ff00c4" stroke-width="4.0"/>
<path d="M32.7,-34 C32.7,-50 50.5,-50 50.5,-25" fill="none" stroke="#ff00c4" stroke-width="4.0"/>
</g>
<g transform="translate(182.8,304.5) scale(0.52)">
<path d="M-59.699999999999996,10 L-50.9,10 L-51.339999999999996,33 Q-55.3,34.5 -59.26,33 Z" fill="#ff00c4"/>
<path d="M-42.199999999999996,10 L-33.4,10 L-33.839999999999996,25 Q-37.8,26.5 -41.76,25 Z" fill="#ff00c4"/>
<path d="M-24.4,10 L-15.6,10 L-16.04,33 Q-20,34.5 -23.96,33 Z" fill="#ff00c4"/>
<path d="M-7.2,10 L1.6000000000000005,10 L1.1600000000000006,25 Q-2.8,26.5 -6.76,25 Z" fill="#ff00c4"/>
<path d="M10.6,10 L19.4,10 L18.96,33 Q15,34.5 11.04,33 Z" fill="#ff00c4"/>
<path d="M28.300000000000004,10 L37.1,10 L36.660000000000004,25 Q32.7,26.5 28.740000000000002,25 Z" fill="#ff00c4"/>
<path d="M46.1,10 L54.9,10 L54.46,33 Q50.5,34.5 46.54,33 Z" fill="#ff00c4"/>
<path d="M-55.3,30 C-55.3,44 -37.8,44 -37.8,22" fill="none" stroke="#ff00c4" stroke-width="4.0"/>
<path d="M-20,30 C-20,44 -2.8,44 -2.8,22" fill="none" stroke="#ff00c4" stroke-width="4.0"/>
<path d="M15,30 C15,44 32.7,44 32.7,22" fill="none" stroke="#ff00c4" stroke-width="4.0"/>
<g transform="rotate(0)">
<path d="M-86,-5 C-86,-12 -79,-15.5 -69,-16 C-49,-17 -9,-17.5 21,-15.5 C46,-14 71,-10 81,-4 C86,-1 87,7 83,12 C77,16.5 51,18 26,17.5 C-9,16.5 -49,13.5 -71,9.5 C-81,7 -86,3 -86,-5 Z" fill="#45afdb"/>
<path d="M-86,-5 C-86,-12 -79,-15.5 -69,-16 C-49,-17 -9,-17.5 21,-15.5 C46,-14 71,-10 81,-4 C86,-1 86,3 85.5,4 C71,6.5 51,7 36,7 C11,6.5 -29,5.5 -64,2.5 C-79,1 -86,-1 -86,-5 Z" fill="#b6e1f2" stroke="#5db9de" stroke-width="0.8"/>
</g>
<path d="M-58.952,-27 Q-55.3,-28 -51.647999999999996,-27 L-50.459999999999994,-3 Q-55.3,-1.5 -60.14,-3 Z" fill="#ff00c4"/>
<path d="M-41.452,-36 Q-37.8,-37 -34.147999999999996,-36 L-32.959999999999994,-13 Q-37.8,-11.5 -42.64,-13 Z" fill="#ff00c4"/>
<path d="M-23.652,-27 Q-20,-28 -16.348,-27 L-15.16,-3 Q-20,-1.5 -24.84,-3 Z" fill="#ff00c4"/>
<path d="M-6.452,-36 Q-2.8,-37 0.8520000000000003,-36 L2.040000000000001,-13 Q-2.8,-11.5 -7.640000000000001,-13 Z" fill="#ff00c4"/>
<path d="M11.347999999999999,-27 Q15,-28 18.652,-27 L19.84,-3 Q15,-1.5 10.16,-3 Z" fill="#ff00c4"/>
<path d="M29.048000000000002,-36 Q32.7,-37 36.352000000000004,-36 L37.540000000000006,-13 Q32.7,-11.5 27.860000000000003,-13 Z" fill="#ff00c4"/>
<path d="M46.848,-27 Q50.5,-28 54.152,-27 L55.34,-3 Q50.5,-1.5 45.66,-3 Z" fill="#ff00c4"/>
<path d="M-37.8,-34 C-37.8,-50 -20,-50 -20,-25" fill="none" stroke="#ff00c4" stroke-width="4.0"/>
<path d="M-2.8,-34 C-2.8,-50 15,-50 15,-25" fill="none" stroke="#ff00c4" stroke-width="4.0"/>
<path d="M32.7,-34 C32.7,-50 50.5,-50 50.5,-25" fill="none" stroke="#ff00c4" stroke-width="4.0"/>
</g>
<text x="61.8" y="344.4" font-size="12" textLength="22.2" lengthAdjust="spacingAndGlyphs" font-weight="normal" fill="#111" text-anchor="start" font-family="Liberation Sans" >D6R</text>
<text x="164" y="344.4" font-size="12" textLength="35" lengthAdjust="spacingAndGlyphs" font-weight="normal" fill="#111" text-anchor="start" font-family="Liberation Sans" >C5aR2</text>
<path d="M102,338 C110,336 117,340 121,348 M140.2,335.7 C132,336 126,340 123,346 L123.5,363" fill="none" stroke="#000" stroke-width="2.4" stroke-linecap="round"/>
<path d="M117.8,354.4 L123.5,364 L127,355.3" fill="none" stroke="#000" stroke-width="2" stroke-linecap="round" stroke-linejoin="round"/>
<text x="25.8" y="378.9" font-size="13.8" textLength="173" lengthAdjust="spacingAndGlyphs" font-weight="normal" fill="#111" text-anchor="start" font-family="Liberation Sans" >Look at these two transmembrane</text>
<text x="25.8" y="394.7" font-size="13.8" textLength="207" lengthAdjust="spacingAndGlyphs" font-weight="normal" fill="#111" text-anchor="start" font-family="Liberation Sans" >proteins. They look like GPCRs. Except,</text>
<text x="25.8" y="410.5" font-size="13.8" textLength="184" lengthAdjust="spacingAndGlyphs" font-weight="normal" fill="#111" text-anchor="start" font-family="Liberation Sans" >they are not signaling via G proteins.</text>
<text x="25.8" y="426.3" font-size="13.8" textLength="194" lengthAdjust="spacingAndGlyphs" font-weight="normal" fill="#111" text-anchor="start" font-family="Liberation Sans" >‘THEY MUST BE SILENT GPCRs!</text>
<path d="M323.4,258 L323.4,291" stroke="#000" stroke-width="2.4" stroke-linecap="round"/>
<path d="M318.3,281.1 L323.4,292.2 L328.3,281.1" fill="none" stroke="#000" stroke-width="2" stroke-linecap="round" stroke-linejoin="round"/>
<text x="259" y="305.6" font-size="13.8" textLength="131" lengthAdjust="spacingAndGlyphs" font-weight="normal" fill="#111" text-anchor="start" font-family="Liberation Sans" >These receptors signal via</text>
<text x="299.9" y="321.1" font-size="13.8" textLength="48.4" lengthAdjust="spacingAndGlyphs" font-weight="normal" fill="#111" text-anchor="start" font-family="Liberation Sans" >Arrestins</text>
<text x="289.4" y="337.8" font-size="13.8" textLength="69.6" lengthAdjust="spacingAndGlyphs" font-weight="normal" fill="#111" text-anchor="start" font-family="Liberation Sans" >AND NOT G</text>
<text x="290.6" y="353.3" font-size="13.8" textLength="66.6" lengthAdjust="spacingAndGlyphs" font-weight="normal" fill="#111" text-anchor="start" font-family="Liberation Sans" >PROTEINS.</text>
<text x="268.3" y="370" font-size="13.8" textLength="110.7" lengthAdjust="spacingAndGlyphs" font-weight="normal" fill="#111" text-anchor="start" font-family="Liberation Sans" >In fact let’s call them</text>
<text x="308.3" y="385.6" font-size="13.8" textLength="31.6" lengthAdjust="spacingAndGlyphs" font-weight="normal" fill="#111" text-anchor="start" font-family="Liberation Sans" >ACRs</text>
<path d="M315.4,412 L315.4,394" stroke="#000" stroke-width="2.4" stroke-linecap="round"/>
<path d="M310.6,403.3 L315.4,393.3 L320.6,403.3" fill="none" stroke="#000" stroke-width="2" stroke-linecap="round" stroke-linejoin="round"/>
<circle cx="371.2" cy="404" r="10.5" fill="#8c10c8" stroke="#111" stroke-width="1.4"/>
<text x="298.5" y="434" font-size="20" textLength="35" lengthAdjust="spacingAndGlyphs" font-weight="bold" fill="#ff0000" text-anchor="start" font-family="Liberation Sans" >NO!</text>
<path d="M216.7,429.6 C225,430.8 233,431.8 245,432.6 C260,433.5 275,433.6 291,433.2" fill="none" stroke="#000" stroke-width="2.6" stroke-linecap="round"/>
<path d="M272.8,429 L291.7,432.4 L272.8,436.5" fill="none" stroke="#000" stroke-width="2" stroke-linecap="round" stroke-linejoin="round"/>
<g transform="translate(482.2,292.8) scale(0.55)">
<path d="M-59.5,10 L-51.099999999999994,10 L-51.519999999999996,33 Q-55.3,34.5 -59.08,33 Z" fill="#ff00c4"/>
<path d="M-42.0,10 L-33.599999999999994,10 L-34.019999999999996,25 Q-37.8,26.5 -41.58,25 Z" fill="#ff00c4"/>
<path d="M-24.2,10 L-15.8,10 L-16.22,33 Q-20,34.5 -23.78,33 Z" fill="#ff00c4"/>
<path d="M-7.0,10 L1.4000000000000004,10 L0.9800000000000004,25 Q-2.8,26.5 -6.58,25 Z" fill="#ff00c4"/>
<path d="M10.8,10 L19.2,10 L18.78,33 Q15,34.5 11.219999999999999,33 Z" fill="#ff00c4"/>
<path d="M28.500000000000004,10 L36.900000000000006,10 L36.480000000000004,25 Q32.7,26.5 28.92,25 Z" fill="#ff00c4"/>
<path d="M46.3,10 L54.7,10 L54.28,30 Q50.5,31.5 46.72,30 Z" fill="#ff00c4"/>
<path d="M-55.3,30 C-55.3,44 -37.8,44 -37.8,22" fill="none" stroke="#ff00c4" stroke-width="3.8"/>
<path d="M-20,30 C-20,44 -2.8,44 -2.8,22" fill="none" stroke="#ff00c4" stroke-width="3.8"/>
<path d="M15,30 C15,44 32.7,44 32.7,22" fill="none" stroke="#ff00c4" stroke-width="3.8"/>
<g transform="rotate(0)">
<path d="M-86,-5 C-86,-12 -79,-15.5 -69,-16 C-49,-17 -9,-17.5 21,-15.5 C46,-14 71,-10 81,-4 C86,-1 87,7 83,12 C77,16.5 51,18 26,17.5 C-9,16.5 -49,13.5 -71,9.5 C-81,7 -86,3 -86,-5 Z" fill="#45afdb"/>
<path d="M-86,-5 C-86,-12 -79,-15.5 -69,-16 C-49,-17 -9,-17.5 21,-15.5 C46,-14 71,-10 81,-4 C86,-1 86,3 85.5,4 C71,6.5 51,7 36,7 C11,6.5 -29,5.5 -64,2.5 C-79,1 -86,-1 -86,-5 Z" fill="#b6e1f2" stroke="#5db9de" stroke-width="0.8"/>
</g>
<path d="M-58.785999999999994,-27 Q-55.3,-28 -51.814,-27 L-50.67999999999999,-3 Q-55.3,-1.5 -59.92,-3 Z" fill="#ff00c4"/>
<path d="M-41.285999999999994,-36 Q-37.8,-37 -34.314,-36 L-33.17999999999999,-13 Q-37.8,-11.5 -42.42,-13 Z" fill="#ff00c4"/>
<path d="M-23.486,-27 Q-20,-28 -16.514,-27 L-15.379999999999999,-3 Q-20,-1.5 -24.62,-3 Z" fill="#ff00c4"/>
<path d="M-6.286,-36 Q-2.8,-37 0.6859999999999999,-36 L1.8200000000000012,-13 Q-2.8,-11.5 -7.420000000000001,-13 Z" fill="#ff00c4"/>
<path d="M11.514,-27 Q15,-28 18.486,-27 L19.62,-3 Q15,-1.5 10.379999999999999,-3 Z" fill="#ff00c4"/>
<path d="M29.214000000000002,-36 Q32.7,-37 36.186,-36 L37.32000000000001,-13 Q32.7,-11.5 28.080000000000002,-13 Z" fill="#ff00c4"/>
<path d="M47.014,-27 Q50.5,-28 53.986,-27 L55.120000000000005,-3 Q50.5,-1.5 45.879999999999995,-3 Z" fill="#ff00c4"/>
<path d="M-37.8,-34 C-37.8,-50 -20,-50 -20,-25" fill="none" stroke="#ff00c4" stroke-width="3.8"/>
<path d="M-2.8,-34 C-2.8,-50 15,-50 15,-25" fill="none" stroke="#ff00c4" stroke-width="3.8"/>
<path d="M32.7,-34 C32.7,-50 50.5,-50 50.5,-25" fill="none" stroke="#ff00c4" stroke-width="3.8"/>
</g>
<circle cx="461.7" cy="316.6" r="7.8" fill="#8c10c8" stroke="#111" stroke-width="1.2"/>
<circle cx="505.7" cy="320.5" r="10" fill="#f1e4f2" stroke="#16120a" stroke-width="1"/>
<circle cx="506.5" cy="320.5" r="9.4" fill="#f6bd12"/>
<circle cx="522.7" cy="318.3" r="10.5" fill="#0c1a88" stroke="#16120a" stroke-width="1"/>
<circle cx="515.3" cy="325.7" r="11" fill="#138a45" stroke="#16120a" stroke-width="1"/>
<circle cx="525.7" cy="335" r="18.4" fill="none" stroke="#cc0606" stroke-width="4.2"/>
<path d="M517.5,327 L534,343.3 M534,327 L517.5,343.3" stroke="#cc0606" stroke-width="3.8"/>
<circle cx="458.3" cy="331.7" r="6" fill="url(#glow)"/>
<circle cx="458.3" cy="331.7" r="1.4" fill="#8c12c8"/>
<circle cx="464.6" cy="332.8" r="6" fill="url(#glow)"/>
<circle cx="464.6" cy="332.8" r="1.4" fill="#8c12c8"/>
<circle cx="471.2" cy="327.9" r="6" fill="url(#glow)"/>
<circle cx="471.2" cy="327.9" r="1.4" fill="#8c12c8"/>
<circle cx="476.1" cy="335" r="6" fill="url(#glow)"/>
<circle cx="476.1" cy="335" r="1.4" fill="#8c12c8"/>
<circle cx="470.1" cy="340.6" r="6" fill="url(#glow)"/>
<circle cx="470.1" cy="340.6" r="1.4" fill="#8c12c8"/>
<circle cx="461.7" cy="342.3" r="6" fill="url(#glow)"/>
<circle cx="461.7" cy="342.3" r="1.4" fill="#8c12c8"/>
<circle cx="468.3" cy="353.5" r="6" fill="url(#glow)"/>
<circle cx="468.3" cy="353.5" r="1.4" fill="#8c12c8"/>
<circle cx="476.1" cy="349.4" r="6" fill="url(#glow)"/>
<circle cx="476.1" cy="349.4" r="1.4" fill="#8c12c8"/>
<circle cx="472.8" cy="362" r="6" fill="url(#glow)"/>
<circle cx="472.8" cy="362" r="1.4" fill="#8c12c8"/>
<path d="M456.1,345.6 L453.2,359" stroke="#000" stroke-width="1.9" stroke-linecap="round"/>
<path d="M450,351.7 L453,360 L458.1,352.2" fill="none" stroke="#000" stroke-width="1.7" stroke-linecap="round" stroke-linejoin="round"/>
<text x="420.9" y="369.8" font-size="13.8" textLength="52.6" lengthAdjust="spacingAndGlyphs" font-weight="normal" fill="#111" text-anchor="start" font-family="Liberation Sans" >They even</text>
<text x="420.9" y="386" font-size="13.8" textLength="97.8" lengthAdjust="spacingAndGlyphs" font-weight="normal" fill="#111" text-anchor="start" font-family="Liberation Sans" >discovered some of</text>
<text x="420.9" y="401.9" font-size="13.8" textLength="70.2" lengthAdjust="spacingAndGlyphs" font-weight="normal" fill="#111" text-anchor="start" font-family="Liberation Sans" >the molecules</text>
<text x="420.9" y="417.8" font-size="13.8" textLength="98.3" lengthAdjust="spacingAndGlyphs" font-weight="normal" fill="#111" text-anchor="start" font-family="Liberation Sans" >involved in Arrestin</text>
<text x="420.9" y="433.7" font-size="13.8" textLength="40.4" lengthAdjust="spacingAndGlyphs" font-weight="normal" fill="#111" text-anchor="start" font-family="Liberation Sans" >signaling</text>
<path d="M639.5,258.5 L637.5,288.5" stroke="#000" stroke-width="2.5" stroke-linecap="round"/>
<path d="M634.5,277 L637.2,289.5 L644,279.5" fill="none" stroke="#000" stroke-width="2.2" stroke-linecap="round" stroke-linejoin="round"/>
<text x="607.8" y="308" font-size="20" textLength="61.2" lengthAdjust="spacingAndGlyphs" font-weight="bold" fill="#ff0000" text-anchor="start" font-family="Liberation Sans" >HUGE!</text>
<text x="593.6" y="335" font-size="13.8" textLength="91.8" lengthAdjust="spacingAndGlyphs" font-weight="normal" fill="#111" text-anchor="start" font-family="Liberation Sans" >Especially in Drug</text>
<text x="593.6" y="350" font-size="13.8" textLength="102.9" lengthAdjust="spacingAndGlyphs" font-weight="normal" fill="#111" text-anchor="start" font-family="Liberation Sans" >development against</text>
<text x="593.6" y="365.4" font-size="13.8" textLength="99.9" lengthAdjust="spacingAndGlyphs" font-weight="normal" fill="#111" text-anchor="start" font-family="Liberation Sans" >a variety of diseases</text>
<text x="593.6" y="381.6" font-size="13.8" textLength="42.9" lengthAdjust="spacingAndGlyphs" font-weight="normal" fill="#111" text-anchor="start" font-family="Liberation Sans" >including</text>
<text x="593.6" y="398.4" font-size="13.8" textLength="69.9" lengthAdjust="spacingAndGlyphs" font-weight="normal" fill="#111" text-anchor="start" font-family="Liberation Sans" >COVID-19!</text>
<g>
<g transform="rotate(-22 701 371)"><rect x="696" y="356" width="7" height="7" rx="1.5" fill="#d6d8d8"/><rect x="694" y="362" width="14" height="17" rx="3" fill="#1c9a3a"/><rect x="694.5" y="377" width="13" height="8" fill="#e6f0f0"/></g>
<g transform="rotate(-10 712.5 363)"><rect x="707" y="355" width="11" height="16" rx="1" fill="#9fd2da"/>
<circle cx="710" cy="358" r="1.2" fill="#f28a48"/>
<circle cx="715" cy="358" r="1.2" fill="#f28a48"/>
<circle cx="710" cy="362" r="1.2" fill="#f28a48"/>
<circle cx="715" cy="362" r="1.2" fill="#f28a48"/>
<circle cx="710" cy="366" r="1.2" fill="#f28a48"/>
<circle cx="715" cy="366" r="1.2" fill="#f28a48"/>
</g>
<rect x="719" y="356" width="6" height="4" fill="#dcdcdc"/><rect x="718.5" y="359.5" width="10.5" height="10" rx="1.5" fill="#e8b420"/>
<g transform="rotate(-16 729.7 359)"><rect x="727.5" y="345" width="4.5" height="28" rx="2" fill="#d6ecf6"/><rect x="727.5" y="345" width="4.5" height="5" rx="2" fill="#48acd6"/><rect x="728.5" y="354" width="2.5" height="6" fill="#5a4a80"/></g>
<rect x="735.5" y="356" width="6" height="5" fill="#e0e0e0"/><path d="M734,364 Q734,360 738,360 L742,360 Q746,360 746,364 L746,375 L734,375 Z" fill="#16162a"/><rect x="734" y="367.5" width="12" height="7.5" fill="#f2f0c4"/><path d="M736,375 Q738,368 741,372 Q743,367 745,375 Z" fill="#2a9a3a"/>
<rect x="746.3" y="355" width="2.6" height="12" fill="#e0e6ea"/><rect x="746.6" y="354" width="2" height="3" fill="#2a9a4a"/>
<rect x="749.6" y="359" width="2.8" height="9" fill="#b0c8d0"/><path d="M749.8,359 L751,355 L752.2,359 Z" fill="#3a9ad0"/>
<rect x="754.7" y="352.6" width="7" height="3" fill="#eeeeee"/><rect x="755.2" y="355.4" width="6.4" height="13" fill="#e83a14"/>
<path d="M707.5,372.5 L729.5,366.8 L733,385 L710,385 Z" fill="#48b0d8"/><path d="M712,374 l12,-3 M713,377.5 l9,-2.2" stroke="#e6f6fb" stroke-width="1"/><circle cx="712.6" cy="374.2" r="1.3" fill="#e6f6fb"/><path d="M717,381 Q722,376 728,379 L728,384 L717,384 Z" fill="#cfe7f0"/>
<path d="M734,373.3 L754,378 L753.5,385 L733.4,385 Z" fill="#e8401c"/><path d="M742,380 l8,1.8" stroke="#f6d0a0" stroke-width="1.6"/>
<g transform="rotate(-4 751 376)"><rect x="745.5" y="367.6" width="11.5" height="17.4" fill="#b6dfcf"/>
<circle cx="748.5" cy="371" r="1.1" fill="#3aa060"/>
<circle cx="753.5" cy="371" r="1.1" fill="#3aa060"/>
<circle cx="748.5" cy="375" r="1.1" fill="#3aa060"/>
<circle cx="753.5" cy="375" r="1.1" fill="#3aa060"/>
<circle cx="748.5" cy="379" r="1.1" fill="#3aa060"/>
<circle cx="753.5" cy="379" r="1.1" fill="#3aa060"/>
</g>
<g transform="rotate(24 766 374)"><rect x="768.5" y="353" width="5.5" height="8" rx="1" fill="#f0a090"/><rect x="759" y="360" width="14" height="26" rx="4.5" fill="#42b2da"/><rect x="768" y="361" width="5" height="25" rx="2" fill="#2e9cc8"/><path d="M763,365 L763,384" stroke="#e04a2a" stroke-width="0.9"/></g>
</g>
<rect x="698.3" y="384.7" width="73.7" height="54.6" fill="#d0eef7"/>
<rect x="698.3" y="384.7" width="8" height="54.6" fill="#70c6e2"/>
<rect x="706.3" y="384.7" width="8" height="54.6" fill="#a0dcee"/>
<path d="M699,439.3 L706.4,432 L713.8,439.3 Z" fill="#58b8dc"/>
<circle cx="743.3" cy="411.1" r="12.2" fill="#e6401a"/>
<rect x="734.8" y="408.3" width="17" height="5.5" fill="#d0eef7"/><rect x="740.3" y="402.6" width="6.1" height="17" fill="#d0eef7"/>
<rect x="790.6" y="412.2" width="9.4" height="29" fill="#f08a52"/><rect x="790.6" y="412.2" width="9.4" height="13" fill="#f29560"/>
<path d="M772.2,415 L790.6,413.3 L790.6,425.5 L772.2,425.5 Z" fill="#2a9ec8"/>
<path d="M742,427.5 C746,424 752,423 758,423.3 C764,423.5 768,424.5 772,424.5 L790.6,425 L790.6,440 C785,440 778,439 774.4,438.3 C770,441 767,444 763,444.4 C757,445.2 750,445 746.7,445 C742,444.5 737,443.5 735.6,441.7 C740,439 746,437.5 752.2,435.6 C754,433 755,431 753.9,430 C750,430.5 745,430.5 742.2,430 C740.5,429.5 740.8,428.5 742,427.5 Z" fill="#38acd0"/>
</svg></body></html>
